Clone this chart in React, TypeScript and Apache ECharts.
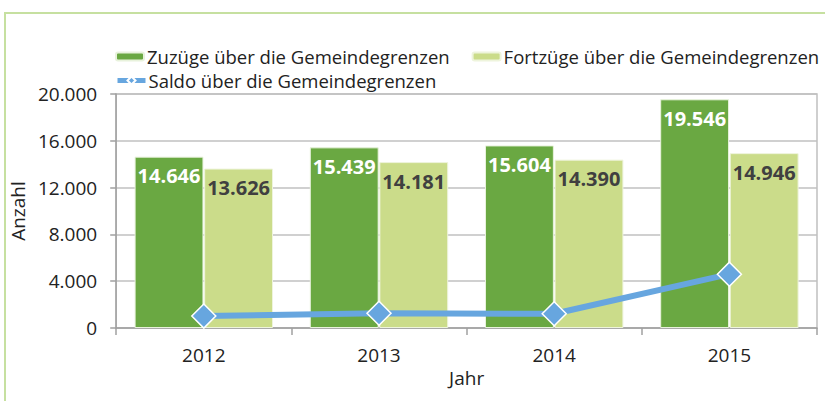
import React, { useEffect, useRef } from "react";
import * as echarts from "echarts";

const years = ["2012", "2013", "2014", "2015"];
const zuzuege = [14646, 15439, 15604, 19546];
const fortzuege = [13626, 14181, 14390, 14946];
const saldo = [1020, 1258, 1214, 4600];
const yTicks = { min: 0, max: 20000, interval: 4000 };

const fmt = (v: number) => {
  const s = String(Math.round(v));
  return s.replace(/\B(?=(\d{3})+(?!\d))/g, ".");
};

const FONT = "'Open Sans', 'Noto Sans', sans-serif";
const TXT = "#222222";

export default function App() {
  const ref = useRef<HTMLDivElement>(null);
  useEffect(() => {
    if (!ref.current) return;
    const chart = echarts.init(ref.current, undefined, { renderer: "svg" });
    chart.setOption({
      animation: false,
      backgroundColor: "#ffffff",
      textStyle: { fontFamily: FONT },
      graphic: [
        {
          type: "rect",
          shape: { x: 5, y: 13, width: 840, height: 420 },
          style: { fill: "none", stroke: "#c6e0a0", lineWidth: 2 },
          silent: true,
        },
      ],
      legend: [
        {
          data: ["Zuzüge über die Gemeindegrenzen", "Fortzüge über die Gemeindegrenzen"],
          left: 115,
          top: 47,
          itemWidth: 28,
          itemHeight: 8,
          itemGap: 22,
          padding: 0,
          textStyle: { fontSize: 18.5, color: TXT, fontFamily: FONT, padding: [0, 0, 0, -2] },
        },
        {
          data: [
            {
              name: "Saldo über die Gemeindegrenzen",
              lineStyle: { width: 5 },
            },
          ],
          left: 115,
          top: 71,
          itemWidth: 28,
          itemHeight: 10,
          padding: 0,
          textStyle: { fontSize: 18.5, color: TXT, fontFamily: FONT, padding: [0, 0, 0, -2] },
        },
      ],
      grid: {
        left: 114,
        right: 8,
        top: 94,
        bottom: 73,
        show: true,
        borderColor: "#c0c0c0",
        borderWidth: 1.5,
        backgroundColor: "transparent",
      },
      xAxis: {
        type: "category",
        data: years,
        name: "Jahr",
        nameLocation: "middle",
        nameGap: 38,
        nameTextStyle: { fontSize: 19, color: TXT },
        axisLine: { lineStyle: { color: "#a0a0a0", width: 1.5 } },
        axisTick: { show: true, length: 7, lineStyle: { color: "#a0a0a0", width: 1.5 } },
        axisLabel: { fontSize: 19, color: TXT, margin: 17 },
      },
      yAxis: {
        type: "value",
        min: yTicks.min,
        max: yTicks.max,
        interval: yTicks.interval,
        name: "Anzahl",
        nameLocation: "middle",
        nameGap: 78,
        nameRotate: 90,
        nameTextStyle: { fontSize: 19, color: TXT },
        axisLine: { show: true, lineStyle: { color: "#a0a0a0", width: 1.5 } },
        axisTick: { show: true, length: 6, lineStyle: { color: "#a0a0a0", width: 1.5 } },
        axisLabel: { fontSize: 19, color: TXT, margin: 19, formatter: (v: number) => fmt(v) },
        splitLine: { lineStyle: { color: "#c0c0c0", width: 1.5 } },
      },
      series: [
        {
          name: "Zuzüge über die Gemeindegrenzen",
          type: "bar",
          data: zuzuege,
          barGap: "1%",
          barCategoryGap: "21%",
          itemStyle: { color: "#6aa842", borderColor: "#e8f2dc", borderWidth: 1 },
          label: {
            show: true,
            position: "insideTop",
            distance: 9,
            fontSize: 20,
            fontWeight: "bold",
            color: "#ffffff",
            fontFamily: FONT,
            formatter: (p: any) => fmt(p.value),
          },
        },
        {
          name: "Fortzüge über die Gemeindegrenzen",
          type: "bar",
          data: fortzuege,
          itemStyle: { color: "#cbdc8a", borderColor: "#eef4dc", borderWidth: 1 },
          label: {
            show: true,
            position: "insideTop",
            distance: 9,
            fontSize: 20,
            fontWeight: "bold",
            color: "#404040",
            fontFamily: FONT,
            formatter: (p: any) => fmt(p.value),
          },
        },
        {
          name: "Saldo über die Gemeindegrenzen",
          type: "line",
          data: saldo,
          symbol: "diamond",
          symbolSize: 24,
          lineStyle: { color: "#67a6df", width: 6 },
          itemStyle: { color: "#67a6df", borderColor: "#ffffff", borderWidth: 1.5 },
          z: 5,
        },
      ],
    });
    return () => chart.dispose();
  }, []);
  return (
    <div
      ref={ref}
      style={{ position: "fixed", left: 0, top: 0, width: 825, height: 401 }}
    />
  );
}
